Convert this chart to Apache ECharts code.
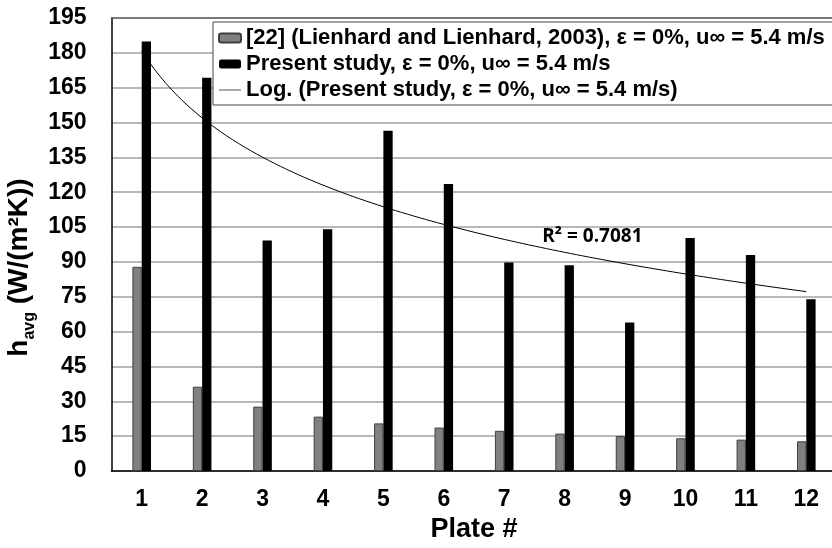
<!DOCTYPE html>
<html>
<head>
<meta charset="utf-8">
<script src="https://cdn.jsdelivr.net/npm/echarts@6/dist/echarts.min.js"></script>
<style>html,body{margin:0;padding:0;background:#fff}#c{width:832px;height:548px}</style>
</head>
<body>
<div id="c"></div>
<script>
var plates = ['1','2','3','4','5','6','7','8','9','10','11','12'];
var lienhard = [87.9, 36.3, 27.7, 23.4, 20.5, 18.7, 17.3, 16.1, 15.0, 14.1, 13.5, 12.8];
var present = [184.9, 169.3, 99.2, 104.1, 146.5, 123.5, 89.7, 88.6, 63.9, 100.3, 93.0, 73.9];
var yTicks = {min: 0, max: 195, interval: 15};
var r2Text = 'R² = 0.7081';
var seriesNames = [
  '[22] (Lienhard and Lienhard, 2003), ε = 0%, u∞ = 5.4 m/s',
  'Present study, ε = 0%, u∞ = 5.4 m/s',
  'Log. (Present study, ε = 0%, u∞ = 5.4 m/s)'
];

// least-squares logarithmic trendline fitted to the present-study values (as Excel does)
var n = present.length, sL = 0, sY = 0, sLL = 0, sLY = 0;
for (var i = 0; i < n; i++) {
  var L = Math.log(i + 1);
  sL += L; sY += present[i]; sLL += L * L; sLY += L * present[i];
}
var slope = (n * sLY - sL * sY) / (n * sLL - sL * sL);
var intercept = (sY - slope * sL) / n;
var trend = [];
for (var k = 0; k <= 110; k++) {
  var x = 1 + k * 0.1;
  trend.push([x, slope * Math.log(x) + intercept]);
}

var FONT = '"Liberation Sans", Arial, sans-serif';
var chart = echarts.init(document.getElementById('c'), null, {renderer: 'canvas'});
chart.setOption({
  animation: false,
  backgroundColor: '#fff',
  grid: {left: 111.5, right: -4.5, top: 18, bottom: 77, show: false,
         containLabel: false, outerBoundsMode: 'none'},
  legend: {
    left: 213, top: 22, orient: 'vertical', itemGap: 4, itemWidth: 22, itemHeight: 9,
    padding: [5, 40, 4, 5], borderColor: '#444', borderWidth: 1, backgroundColor: '#fff',
    textStyle: {fontFamily: FONT, fontWeight: 'bold', fontSize: 22, color: '#000'},
    data: [
      {name: seriesNames[0]},
      {name: seriesNames[1]},
      {name: seriesNames[2], icon: 'path://M0,4.5L22,4.5L22,5.5L0,5.5Z', itemStyle: {color: '#555'}}
    ]
  },
  xAxis: [{
    type: 'category', data: plates, gridIndex: 0,
    axisLine: {lineStyle: {color: '#000', width: 1.5}},
    axisTick: {show: false},
    axisLabel: {fontFamily: FONT, fontWeight: 'bold', fontSize: 23, color: '#000', margin: 17},
    name: 'Plate #', nameLocation: 'middle', nameGap: 42,
    nameTextStyle: {fontFamily: FONT, fontWeight: 'bold', fontSize: 27, color: '#000'}
  }, {
    type: 'value', min: 0.5, max: 12.5, gridIndex: 0, position: 'top',
    axisLine: {show: true, onZero: false, lineStyle: {color: '#666', width: 1.5}},
    axisTick: {show: false}, axisLabel: {show: false}, splitLine: {show: false}
  }],
  yAxis: {
    type: 'value', min: yTicks.min, max: yTicks.max, interval: yTicks.interval,
    axisLine: {show: true, lineStyle: {color: '#000', width: 1.5}},
    axisTick: {show: false},
    splitLine: {lineStyle: {color: '#a0a0a0', width: 1.5}},
    axisLabel: {fontFamily: FONT, fontWeight: 'bold', fontSize: 23, color: '#000', margin: 25},
    name: '{h|h}{sub|avg}{h| (W/(m²K))}', nameLocation: 'middle', nameGap: 73, nameRotate: 90,
    nameTextStyle: {
      padding: [0, 46, 0, 0],
      rich: {
        h: {fontFamily: FONT, fontWeight: 'bold', fontSize: 28, color: '#000', lineHeight: 36, verticalAlign: 'middle'},
        sub: {fontFamily: FONT, fontWeight: 'bold', fontSize: 16, color: '#000', lineHeight: 36, verticalAlign: 'bottom'}
      }
    }
  },
  series: [{
    name: seriesNames[0], type: 'bar', data: lienhard, barWidth: 9.3, barGap: '0%',
    itemStyle: {color: '#808080', borderColor: '#404040', borderWidth: 1}, z: 3
  }, {
    name: seriesNames[1], type: 'bar', data: present, barWidth: 9.3, barGap: '0%',
    itemStyle: {color: '#000'}, z: 3
  }, {
    name: seriesNames[2], type: 'line', xAxisIndex: 1, data: trend, symbol: 'none', smooth: false,
    lineStyle: {color: '#000', width: 1}, z: 2,
    markPoint: {
      symbol: 'rect', symbolSize: 1, itemStyle: {color: 'rgba(0,0,0,0)'},
      label: {show: true, formatter: r2Text, position: 'inside', fontFamily: '"Open Sans", sans-serif', fontWeight: 'bold', fontSize: 19, color: '#000'},
      data: [{coord: [8.46, 101]}]
    }
  }]
});
</script>
</body>
</html>
